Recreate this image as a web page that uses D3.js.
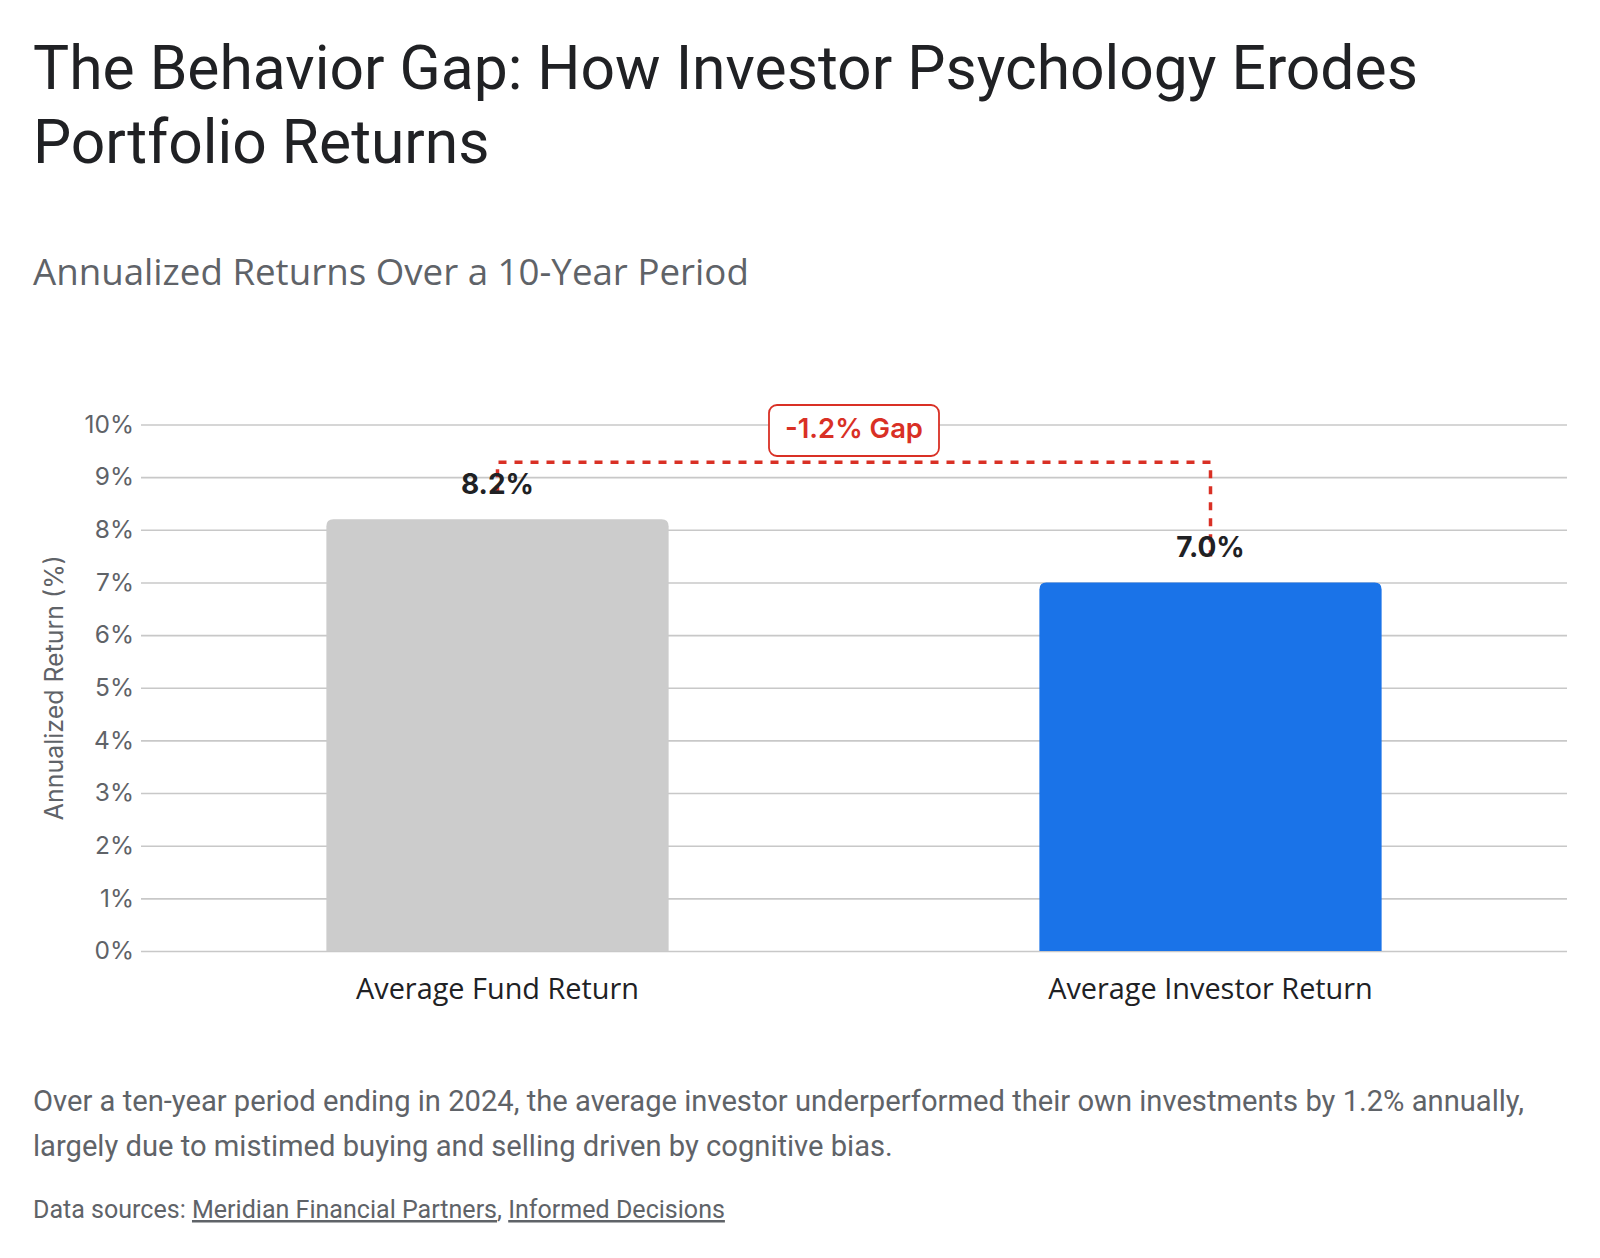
<!DOCTYPE html>
<html>
<head>
<meta charset="utf-8">
<script src="https://cdn.jsdelivr.net/npm/d3@7"></script>
<style>
  html, body { margin: 0; padding: 0; background: #ffffff; }
  svg { display: block; }
</style>
</head>
<body>
<svg id="chart" width="1600" height="1258"></svg>
<script>
// ---- data ----
const categories = ["Average Fund Return", "Average Investor Return"];
const returns = [8.2, 7.0];
const barColors = ["#cccccc", "#1a73e8"];
const yTicks = [0, 1, 2, 3, 4, 5, 6, 7, 8, 9, 10];
const yTickLabels = ["0%", "1%", "2%", "3%", "4%", "5%", "6%", "7%", "8%", "9%", "10%"];
const titleLines = ["The Behavior Gap: How Investor Psychology Erodes", "Portfolio Returns"];
const subtitle = "Annualized Returns Over a 10-Year Period";
const yAxisTitle = "Annualized Return (%)";
const gapLabel = "-1.2% Gap";
const noteLines = [
  "Over a ten-year period ending in 2024, the average investor underperformed their own investments by 1.2% annually,",
  "largely due to mistimed buying and selling driven by cognitive bias."
];
const sourcePrefix = "Data sources: ";
const sources = ["Meridian Financial Partners", "Informed Decisions"];

// ---- layout ----
const svg = d3.select("#chart");
const plotL = 141, plotR = 1567, plotT = 424.5, plotB = 951;

function fit(sel, target) {
  const w = sel.node().getComputedTextLength();
  const fs = parseFloat(sel.attr("font-size"));
  const nf = fs * target / w;
  sel.attr("font-size", nf.toFixed(2));
  return nf;
}

// Title
let titleSize = 56;
titleLines.forEach((t, i) => {
  const s = svg.append("text")
    .attr("x", 33).attr("y", 89 + i * 74)
    .attr("font-family", "Roboto, sans-serif")
    .attr("font-size", titleSize).attr("fill", "#202124")
    .text(t);
  if (i === 0) titleSize = fit(s, 1385);
});

const sub = svg.append("text")
  .attr("x", 33).attr("y", 285)
  .attr("font-family", "'Open Sans', sans-serif")
  .attr("font-size", 30).attr("fill", "#5f6368")
  .text(subtitle);
fit(sub, 716);

// Scales
const x = d3.scaleBand().domain(categories).range([plotL, plotR])
  .paddingInner(0.52).paddingOuter(0.26);
const y = d3.scaleLinear().domain([0, 10]).range([plotB, plotT]);

// Grid + y axis
const yAxis = d3.axisLeft(y).tickValues(yTicks)
  .tickFormat((d, i) => yTickLabels[i])
  .tickSize(-(plotR - plotL)).tickPadding(7);
const gy = svg.append("g").attr("transform", `translate(${plotL},0)`).call(yAxis);
gy.select(".domain").remove();
gy.selectAll(".tick line").attr("stroke", "#c8c8c8").attr("stroke-width", 1.6);
gy.selectAll(".tick text")
  .attr("font-family", "Inter, sans-serif")
  .attr("font-size", 24.5).attr("fill", "#5f6368");

// y axis title
const yt = svg.append("text")
  .attr("transform", `translate(63,${(plotT + plotB) / 2}) rotate(-90)`)
  .attr("text-anchor", "middle")
  .attr("font-family", "Inter, sans-serif")
  .attr("font-size", 21).attr("fill", "#5f6368")
  .text(yAxisTitle);
fit(yt, 265);

// Bars with rounded top corners
const rr = 7;
svg.append("g").selectAll("path").data(returns).join("path")
  .attr("fill", (d, i) => barColors[i])
  .attr("d", (d, i) => {
    const x0 = x(categories[i]), w = x.bandwidth(), y0 = y(d), y1 = y(0);
    return `M${x0},${y1}V${y0 + rr}Q${x0},${y0} ${x0 + rr},${y0}H${x0 + w - rr}Q${x0 + w},${y0} ${x0 + w},${y0 + rr}V${y1}Z`;
  });

// x axis labels
const xl = svg.append("g").selectAll("text").data(categories).join("text")
  .attr("x", d => x(d) + x.bandwidth() / 2).attr("y", 999)
  .attr("text-anchor", "middle")
  .attr("font-family", "'Open Sans', sans-serif")
  .attr("font-size", 24).attr("fill", "#202124")
  .text(d => d);
{
  const first = d3.select(xl.nodes()[0]);
  const nf = fit(first, 283);
  xl.attr("font-size", nf.toFixed(2));
}

// Gap connector
const cx1 = x(categories[0]) + x.bandwidth() / 2;
const cx2 = x(categories[1]) + x.bandwidth() / 2;
const topY = y(d3.max(returns)) - 57;
svg.append("path")
  .attr("d", `M${cx1},${y(returns[0]) - 26}V${topY}H${cx2}V${y(returns[1]) - 26}`)
  .attr("fill", "none").attr("stroke", "#d93025")
  .attr("stroke-width", 3.5).attr("stroke-dasharray", "8 8");

// Gap badge
const midX = (cx1 + cx2) / 2;
svg.append("rect")
  .attr("x", midX - 85).attr("y", 405).attr("width", 170).attr("height", 51)
  .attr("rx", 8).attr("fill", "#ffffff").attr("stroke", "#d93025").attr("stroke-width", 1.8);
const gapT = svg.append("text")
  .attr("x", midX).attr("y", 438).attr("text-anchor", "middle")
  .attr("font-family", "Inter, sans-serif").attr("font-weight", 600)
  .attr("font-size", 23).attr("fill", "#d93025")
  .text(gapLabel);
fit(gapT, 138);

// Value labels
svg.append("g").selectAll("text").data(returns).join("text")
  .attr("x", (d, i) => x(categories[i]) + x.bandwidth() / 2)
  .attr("y", d => y(d) - 25)
  .attr("text-anchor", "middle")
  .attr("font-family", "Inter, sans-serif").attr("font-weight", 700)
  .attr("font-size", 28).attr("fill", "#202124")
  .text(d => d.toFixed(1) + "%");

// Note
let noteSize = 26;
noteLines.forEach((t, i) => {
  const s = svg.append("text")
    .attr("x", 33).attr("y", 1111 + i * 45)
    .attr("font-family", "Roboto, sans-serif")
    .attr("font-size", noteSize).attr("fill", "#5f6368")
    .text(t);
  if (i === 0) noteSize = fit(s, 1491);
});

// Source line
const src = svg.append("text")
  .attr("x", 33).attr("y", 1218)
  .attr("font-family", "Roboto, sans-serif")
  .attr("font-size", 22).attr("fill", "#5f6368");
src.append("tspan").text(sourcePrefix);
sources.forEach((s, i) => {
  src.append("tspan").attr("text-decoration", "underline").text(s);
  if (i < sources.length - 1) src.append("tspan").text(", ");
});
fit(src, 692);
</script>
</body>
</html>
